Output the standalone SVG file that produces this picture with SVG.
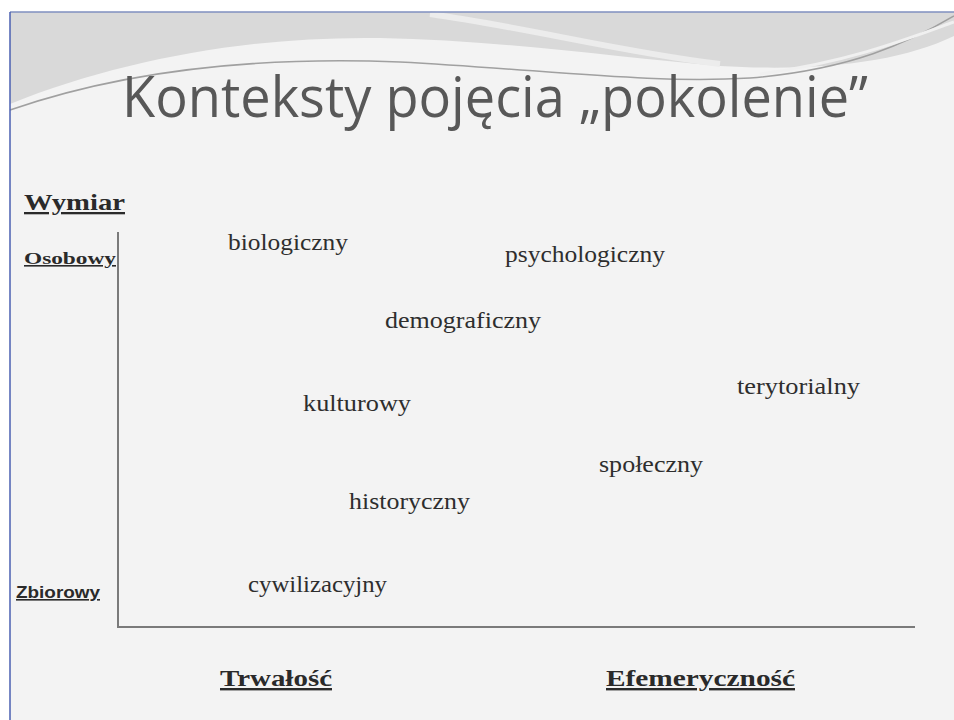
<svg xmlns="http://www.w3.org/2000/svg" width="954" height="720" viewBox="0 0 954 720">
<style>
.w{font-family:"Liberation Serif","DejaVu Serif",serif;font-size:24px;fill:#2e2e2e}
.h{font-family:"Liberation Serif","DejaVu Serif",serif;font-weight:bold;fill:#2a2a2a;text-decoration:underline}
.s{font-family:"Liberation Sans","DejaVu Sans",sans-serif;font-weight:bold;font-size:16px;fill:#2a2a2a;text-decoration:underline}
.ax{stroke:#7a7a7a;stroke-width:2;fill:none}
</style>
<rect x="0" y="0" width="954" height="720" fill="#ffffff"/>
<rect x="10" y="12" width="944" height="708" fill="#f3f3f3"/>
<path d="M10,12 H954 V36 C900,62 820,72 720,66 C620,58 500,40 380,38 C250,36 120,60 10,104 Z" fill="#d9d9d9"/>
<path d="M430,14 C530,28 620,52 720,64" stroke="#ececec" stroke-width="6" fill="none"/>
<path d="M10,110 C120,72 250,56 400,62 C550,70 650,84 750,78 C850,70 910,42 954,16" stroke="#a0a0a0" stroke-width="1.5" fill="none"/>
<path d="M760,74 C850,62 910,38 954,22" stroke="#f0f0f0" stroke-width="3" fill="none"/>
<line x1="10" y1="12" x2="954" y2="12" stroke="#7f8fbf" stroke-width="1.5"/>
<line x1="10" y1="12" x2="10" y2="720" stroke="#4a5fb0" stroke-width="1.5"/>
<g id="title"><text x="122" y="117" textLength="746" lengthAdjust="spacingAndGlyphs" style="font-family:'Open Sans','Noto Sans',sans-serif;font-size:57px;fill:#585858">Konteksty pojęcia „pokolenie”</text></g>
<g id="connectors">
<path class="ax" d="M118,232 V627 H915"/>
</g>
<g id="wymiar"><text class="h" x="24" y="210" font-size="23" textLength="101" lengthAdjust="spacingAndGlyphs">Wymiar</text></g>
<g id="osobowy"><text class="h" x="24" y="264" font-size="16" textLength="92" lengthAdjust="spacingAndGlyphs">Osobowy</text></g>
<g id="zbiorowy"><text class="s" x="16" y="598" textLength="84" lengthAdjust="spacingAndGlyphs">Zbiorowy</text></g>
<g id="trwalosc"><text class="h" x="220" y="686" font-size="24" textLength="112" lengthAdjust="spacingAndGlyphs">Trwałość</text></g>
<g id="efemerycznosc"><text class="h" x="606" y="686" font-size="24" textLength="189" lengthAdjust="spacingAndGlyphs">Efemeryczność</text></g>
<g id="biologiczny"><text class="w" x="228" y="250" textLength="120" lengthAdjust="spacingAndGlyphs">biologiczny</text></g>
<g id="psychologiczny"><text class="w" x="505" y="262" textLength="160" lengthAdjust="spacingAndGlyphs">psychologiczny</text></g>
<g id="demograficzny"><text class="w" x="385" y="328" textLength="156" lengthAdjust="spacingAndGlyphs">demograficzny</text></g>
<g id="terytorialny"><text class="w" x="737" y="394" textLength="123" lengthAdjust="spacingAndGlyphs">terytorialny</text></g>
<g id="kulturowy"><text class="w" x="303" y="411" textLength="108" lengthAdjust="spacingAndGlyphs">kulturowy</text></g>
<g id="spoleczny"><text class="w" x="599" y="472" textLength="104" lengthAdjust="spacingAndGlyphs">społeczny</text></g>
<g id="historyczny"><text class="w" x="349" y="509" textLength="121" lengthAdjust="spacingAndGlyphs">historyczny</text></g>
<g id="cywilizacyjny"><text class="w" x="248" y="592" textLength="139" lengthAdjust="spacingAndGlyphs">cywilizacyjny</text></g>
</svg>
